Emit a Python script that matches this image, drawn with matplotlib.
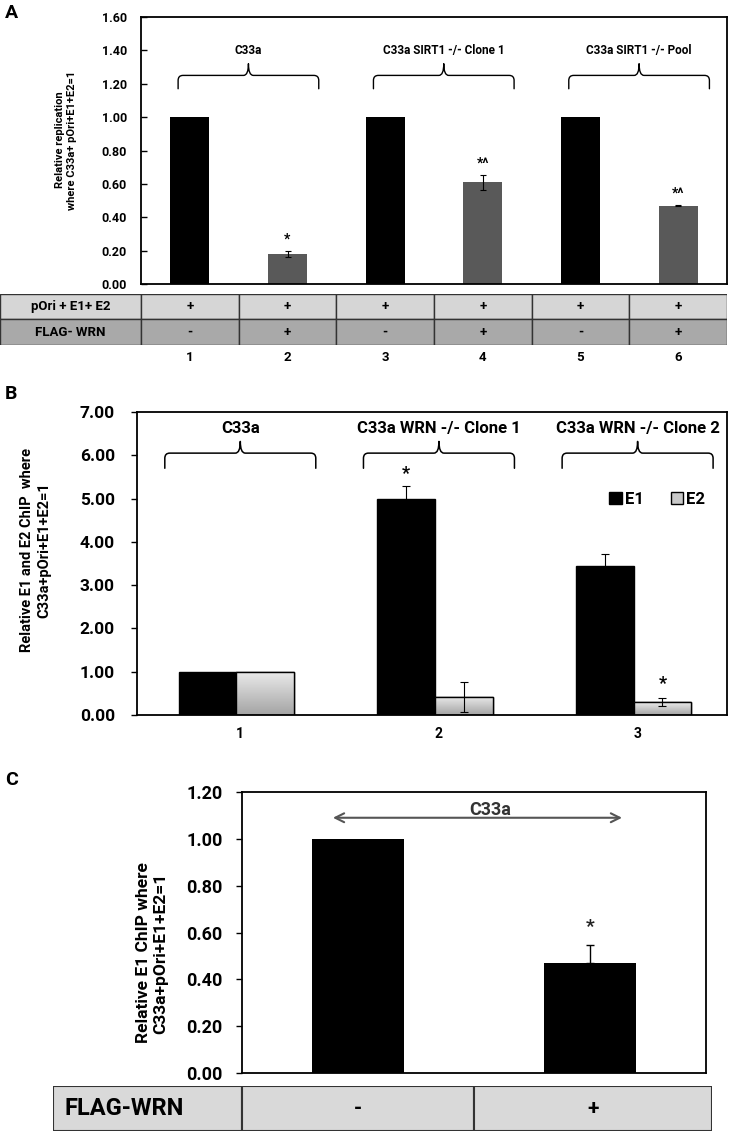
import matplotlib
matplotlib.use("Agg")
import matplotlib.pyplot as plt
import numpy as np
from matplotlib.path import Path
from matplotlib.patches import PathPatch, Rectangle
from matplotlib.colors import LinearSegmentedColormap

# ---------------- data ----------------
A_lanes = ["1", "2", "3", "4", "5", "6"]
A_values = [1.00, 0.18, 1.00, 0.61, 1.00, 0.47]
A_err = [0.0, 0.02, 0.0, 0.045, 0.0, 0.003]
A_marks = ["", "*", "", "*^", "", "*^"]
A_groups = ["C33a", "C33a SIRT1 -/- Clone 1", "C33a SIRT1 -/- Pool"]
A_row_labels = ["pOri + E1+ E2", "FLAG- WRN"]
A_row1 = ["+", "+", "+", "+", "+", "+"]
A_row2 = ["-", "+", "-", "+", "-", "+"]
A_yticks = [0.0, 0.2, 0.4, 0.6, 0.8, 1.0, 1.2, 1.4, 1.6]

B_lanes = ["1", "2", "3"]
B_groups = ["C33a", "C33a WRN -/- Clone 1", "C33a WRN -/- Clone 2"]
B_E1 = [1.00, 5.00, 3.45]
B_E1_err = [0.0, 0.29, 0.26]
B_E2 = [1.00, 0.42, 0.30]
B_E2_err = [0.0, 0.34, 0.09]
B_E1_marks = ["", "*", ""]
B_E2_marks = ["", "", "*"]
B_series = ["E1", "E2"]
B_yticks = [0, 1, 2, 3, 4, 5, 6, 7]

C_values = [1.00, 0.47]
C_err = [0.0, 0.075]
C_marks = ["", "*"]
C_row_label = "FLAG-WRN"
C_row = ["-", "+"]
C_group = "C33a"
C_yticks = [0.0, 0.2, 0.4, 0.6, 0.8, 1.0, 1.2]

# ---------------- fonts ----------------
plt.rcParams["font.family"] = ["Roboto", "DejaVu Sans"]
plt.rcParams["font.weight"] = "bold"

W, H = 729, 1135
fig = plt.figure(figsize=(W / 100, H / 100), dpi=100)


def px_axes(l, t, r, b):
    return fig.add_axes([l / W, 1 - b / H, (r - l) / W, (b - t) / H])


def brace(ax, x0, x1, xc, y_end, y_mid, y_tip, rx, ry, lw=1.0, color="black"):
    verts = [(x0, y_end), (x0, y_mid - ry), (x0, y_mid), (x0 + rx, y_mid),
             (xc - rx, y_mid), (xc, y_mid), (xc, y_tip),
             (xc, y_mid), (xc + rx, y_mid),
             (x1 - rx, y_mid), (x1, y_mid), (x1, y_mid - ry), (x1, y_end)]
    codes = [Path.MOVETO, Path.LINETO, Path.CURVE3, Path.CURVE3,
             Path.LINETO, Path.CURVE3, Path.CURVE3,
             Path.CURVE3, Path.CURVE3,
             Path.LINETO, Path.CURVE3, Path.CURVE3, Path.LINETO]
    ax.add_patch(PathPatch(Path(verts, codes), fill=False, lw=lw, edgecolor=color,
                           capstyle="round", joinstyle="round"))


# ================= Panel A =================
axA = px_axes(141, 17, 727, 284)
xa = np.arange(len(A_lanes))
colsA = ["black" if i % 2 == 0 else "#595959" for i in xa]
axA.bar(xa, A_values, width=0.4, color=colsA, zorder=2)
for i in xa:
    if A_err[i] > 0:
        axA.errorbar(xa[i], A_values[i], yerr=A_err[i], fmt="none", ecolor="black",
                     elinewidth=0.8, capsize=2.5, capthick=0.8, zorder=3)
    if A_marks[i]:
        axA.text(xa[i], A_values[i] + A_err[i] + 0.025, A_marks[i], ha="center", va="bottom",
                 fontsize=10, fontweight="bold")
axA.set_xlim(-0.5, len(A_lanes) - 0.5)
axA.set_ylim(0, 1.6)
axA.set_yticks(A_yticks)
axA.set_yticklabels([f"{v:.2f}" for v in A_yticks], fontsize=9, fontweight="bold")
axA.tick_params(axis="y", length=4, width=1, direction="in", pad=10)
axA.set_xticks([])
for s in axA.spines.values():
    s.set_linewidth(1.3)
for g, name in enumerate(A_groups):
    x0 = 2 * g - 0.12
    x1 = 2 * g + 1.32
    xc = 2 * g + 0.6
    brace(axA, x0, x1, xc, 1.17, 1.25, 1.32, 0.05, 0.03, lw=1.0)
    axA.text(xc, 1.40, name, ha="center", va="center", fontsize=8.5, fontweight="bold")
fig.text(66 / W, 1 - 140 / H, "Relative replication\nwhere C33a+ pOri+E1+E2=1", rotation=90,
         ha="center", va="center", fontsize=8, fontweight="bold", linespacing=1.25)
fig.text(5 / W, 1 - 13 / H, "A", fontsize=14, fontweight="bold", va="center", ha="left")

# Panel A table
axAt = px_axes(0, 294, 727, 345)
x_left = -0.5 - 141 / ((727 - 141) / len(A_lanes))
axAt.set_xlim(x_left, len(A_lanes) - 0.5)
axAt.set_ylim(2, 0)
axAt.axis("off")
row_colors = ["#d6d6d6", "#a9a9a9"]
for r, (lab, vals) in enumerate(zip(A_row_labels, [A_row1, A_row2])):
    axAt.add_patch(Rectangle((x_left, r), -0.5 - x_left, 1, facecolor=row_colors[r],
                             edgecolor="#333333", lw=1.0))
    axAt.text((x_left - 0.5) / 2, r + 0.5, lab, ha="center", va="center", fontsize=9.5,
              fontweight="bold")
    for i, v in enumerate(vals):
        axAt.add_patch(Rectangle((i - 0.5, r), 1, 1, facecolor=row_colors[r],
                                 edgecolor="#333333", lw=1.0))
        axAt.text(i, r + 0.5, v, ha="center", va="center", fontsize=9.5, fontweight="bold")
for i, lab in enumerate(A_lanes):
    axAt.text(i, 2.5, lab, ha="center", va="center", fontsize=9.5, fontweight="bold",
              clip_on=False)

# ================= Panel B =================
axB = px_axes(137, 412, 727, 715)
xb = np.arange(len(B_lanes))
bw = 0.29
bars1 = axB.bar(xb - bw / 2, B_E1, width=bw, color="black", edgecolor="black", lw=1.0,
                label=B_series[0], zorder=2)
bars2 = axB.bar(xb + bw / 2, B_E2, width=bw, color="#c8c8c8", edgecolor="black", lw=1.0,
                label=B_series[1], zorder=2)
grad = np.linspace(0, 1, 100).reshape(-1, 1)
gcmap = LinearSegmentedColormap.from_list("g", ["#a4a4a4", "#ebebeb"])
for b in bars2:
    x, y = b.get_x(), b.get_y()
    w, h = b.get_width(), b.get_height()
    im = axB.imshow(grad, cmap=gcmap, extent=(x, x + w, y, y + h), origin="lower",
                    aspect="auto", zorder=2.1)
    im.set_clip_path(b)
    axB.add_patch(Rectangle((x, y), w, h, fill=False, edgecolor="black", lw=1.0, zorder=2.2))
axB.set_aspect("auto")
for i in xb:
    if B_E1_err[i] > 0:
        axB.errorbar(xb[i] - bw / 2, B_E1[i], yerr=B_E1_err[i], fmt="none", ecolor="black",
                     elinewidth=0.8, capsize=3, capthick=0.8, zorder=3)
    if B_E2_err[i] > 0:
        axB.errorbar(xb[i] + bw / 2, B_E2[i], yerr=B_E2_err[i], fmt="none", ecolor="black",
                     elinewidth=0.8, capsize=3, capthick=0.8, zorder=3)
    if B_E1_marks[i]:
        axB.text(xb[i] - bw / 2, B_E1[i] + B_E1_err[i] + 0.08, B_E1_marks[i], ha="center",
                 va="bottom", fontsize=13, fontweight="bold")
    if B_E2_marks[i]:
        axB.text(xb[i] + bw / 2, B_E2[i] + B_E2_err[i] + 0.12, B_E2_marks[i], ha="center",
                 va="bottom", fontsize=13, fontweight="bold")
axB.set_xlim(-0.5, 2.47)
axB.set_ylim(0, 7)
axB.set_yticks(B_yticks)
axB.set_yticklabels([f"{v:.2f}" for v in B_yticks], fontsize=12.5, fontweight="bold")
axB.tick_params(axis="y", length=4, width=1, direction="out", pad=12)
axB.set_xticks(xb + 0.02)
axB.set_xticklabels(B_lanes, fontsize=10, fontweight="bold")
axB.tick_params(axis="x", length=0, pad=9)
for s in axB.spines.values():
    s.set_linewidth(1.3)
for g, name in enumerate(B_groups):
    xc = g + 0.02
    brace(axB, xc - 0.38, xc + 0.38, xc, 5.7, 6.05, 6.32, 0.025, 0.12, lw=1.1)
    axB.text(xc, 6.62, name, ha="center", va="center", fontsize=12, fontweight="bold")
leg = axB.legend(loc="upper left", bbox_to_anchor=(0.775, 0.785), frameon=False, ncol=2,
                 handlelength=0.75, handleheight=0.75, handletextpad=0.2,
                 columnspacing=1.6, prop={"weight": "bold", "size": 12})
fig.text(36 / W, 1 - 550 / H, "Relative E1 and E2 ChIP  where\nC33a+pOri+E1+E2=1", rotation=90,
         ha="center", va="center", fontsize=10.5, fontweight="bold", linespacing=1.3)
fig.text(5 / W, 1 - 394 / H, "B", fontsize=14, fontweight="bold", va="center", ha="left")

# ================= Panel C =================
axC = px_axes(242, 792, 706, 1073)
xc_ = np.arange(len(C_values))
axC.bar(xc_, C_values, width=0.4, color="black", zorder=2)
for i in xc_:
    if C_err[i] > 0:
        axC.errorbar(xc_[i], C_values[i], yerr=[[0], [C_err[i]]], fmt="none", ecolor="black",
                     elinewidth=1.0, capsize=3, capthick=1.0, zorder=3)
    if C_marks[i]:
        axC.text(xc_[i], C_values[i] + C_err[i] + 0.04, C_marks[i], ha="center", va="bottom",
                 fontsize=14, fontweight="bold", color="#222222")
axC.set_xlim(-0.5, 1.5)
axC.set_ylim(0, 1.2)
axC.set_yticks(C_yticks)
axC.set_yticklabels([f"{v:.2f}" for v in C_yticks], fontsize=13, fontweight="bold")
axC.tick_params(axis="y", length=4, width=1, direction="out", pad=10)
axC.set_xticks([])
for s in axC.spines.values():
    s.set_linewidth(1.3)
axC.annotate("", xy=(1.15, 1.09), xytext=(-0.12, 1.09),
             arrowprops=dict(arrowstyle="<->", color="#555555", lw=1.5, mutation_scale=16))
axC.text(0.57, 1.125, C_group, ha="center", va="center", fontsize=13, fontweight="bold",
         color="#333333")
fig.text(152 / W, 1 - 953 / H, "Relative E1 ChIP where\nC33a+pOri+E1+E2=1", rotation=90,
         ha="center", va="center", fontsize=12.5, fontweight="bold", linespacing=1.2)
fig.text(5 / W, 1 - 780 / H, "C", fontsize=14, fontweight="bold", va="center", ha="left")

# Panel C table
axCt = px_axes(53, 1086, 712, 1131)
c_left = -0.5 - (242 - 53) / 232
c_right = 1.5 + (712 - 706) / 232
axCt.set_xlim(c_left, c_right)
axCt.set_ylim(1, 0)
axCt.axis("off")
axCt.add_patch(Rectangle((c_left, 0), -0.5 - c_left, 1, facecolor="#d9d9d9",
                         edgecolor="#333333", lw=1.5))
axCt.text(c_left + 0.05, 0.5, C_row_label, ha="left", va="center", fontsize=17,
          fontweight="bold")
for i, v in enumerate(C_row):
    left = i - 0.5
    right = 0.5 if i == 0 else c_right
    axCt.add_patch(Rectangle((left, 0), right - left, 1, facecolor="#d9d9d9",
                             edgecolor="#333333", lw=1.5))
    axCt.text((left + right) / 2, 0.5, v, ha="center", va="center", fontsize=15,
              fontweight="bold")

fig.savefig("out.png", dpi=100)
